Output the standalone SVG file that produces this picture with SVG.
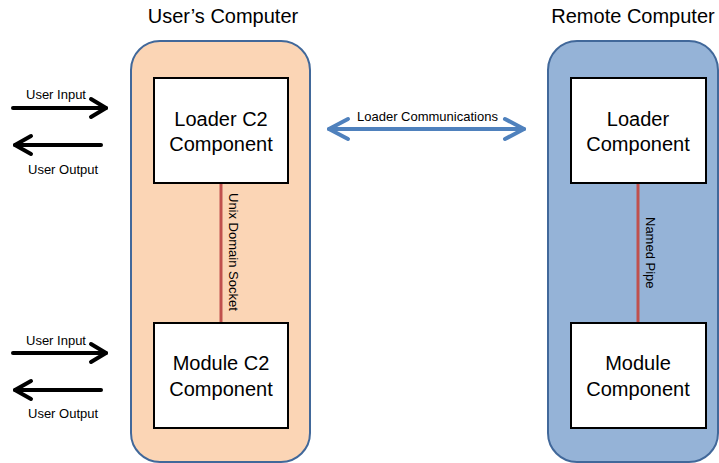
<svg xmlns="http://www.w3.org/2000/svg" width="719" height="463" viewBox="0 0 719 463">
<style>
  text { font-family: "Liberation Sans", Arial, sans-serif; fill: #000; }
  .head { font-size: 20px; text-anchor: middle; }
  .box { font-size: 20px; text-anchor: middle; }
  .small { font-size: 13px; }
  .node { fill: #fff; stroke: #000; stroke-width: 2; }
  .pipe { stroke: #C0504D; stroke-width: 3; fill: none; }
  .blk { stroke: #000; stroke-width: 4; fill: none; stroke-linecap: round; stroke-linejoin: round; }
  .blu { stroke: #4F81BD; stroke-width: 4; fill: none; stroke-linecap: round; stroke-linejoin: round; }
</style>
<rect width="719" height="463" fill="#fff"/>

<g id="users-computer">
  <rect x="131" y="41" width="179" height="421" rx="29" fill="#FBD5B5" stroke="#41689A" stroke-width="2"/>
  <text class="head" x="223" y="23">User’s Computer</text>
</g>
<g id="remote-computer">
  <rect x="548" y="41" width="170" height="421" rx="29" fill="#95B3D7" stroke="#41689A" stroke-width="2"/>
  <text class="head" x="633" y="23">Remote Computer</text>
</g>

<g id="connectors">
  <line class="pipe" x1="221" y1="183" x2="221" y2="323"/>
  <line class="pipe" x1="638" y1="183" x2="638" y2="323"/>
  <text class="small" transform="translate(229,193) rotate(90)">Unix Domain Socket</text>
  <text class="small" transform="translate(646,217) rotate(90)">Named Pipe</text>

  <line class="blu" x1="329" y1="129" x2="524" y2="129"/>
  <polyline class="blu" points="348,119 329,129 348,139"/>
  <polyline class="blu" points="505,119 524,129 505,139"/>
  <text class="small" x="357" y="121">Loader Communications</text>

  <line class="blk" x1="13" y1="108" x2="106" y2="108"/>
  <polyline class="blk" points="91,99 106,108 91,117"/>
  <text class="small" x="26" y="99">User Input</text>
  <line class="blk" x1="15" y1="145" x2="101" y2="145"/>
  <polyline class="blk" points="31,136 15,145 31,154"/>
  <text class="small" x="28" y="174">User Output</text>

  <line class="blk" x1="13" y1="353" x2="106" y2="353"/>
  <polyline class="blk" points="91,344 106,353 91,362"/>
  <text class="small" x="26" y="345">User Input</text>
  <line class="blk" x1="15" y1="390" x2="101" y2="390"/>
  <polyline class="blk" points="31,381 15,390 31,399"/>
  <text class="small" x="28" y="418">User Output</text>
</g>

<g id="loader-c2">
  <rect class="node" x="154" y="78" width="134" height="105"/>
  <text class="box" x="221" y="126">Loader C2</text>
  <text class="box" x="221" y="151">Component</text>
</g>
<g id="module-c2">
  <rect class="node" x="154" y="323" width="134" height="105"/>
  <text class="box" x="221" y="370">Module C2</text>
  <text class="box" x="221" y="396">Component</text>
</g>
<g id="loader">
  <rect class="node" x="571" y="78" width="135" height="105"/>
  <text class="box" x="638" y="126">Loader</text>
  <text class="box" x="638" y="151">Component</text>
</g>
<g id="module">
  <rect class="node" x="571" y="323" width="135" height="105"/>
  <text class="box" x="638" y="370">Module</text>
  <text class="box" x="638" y="396">Component</text>
</g>
</svg>
